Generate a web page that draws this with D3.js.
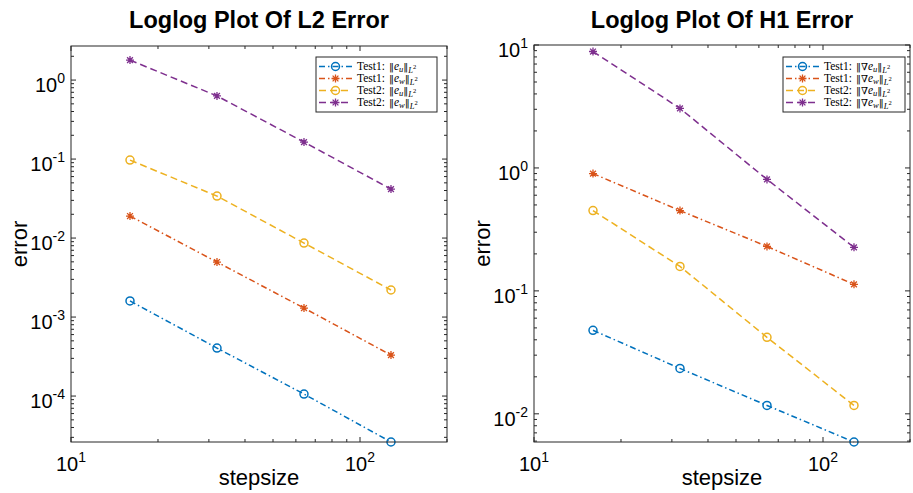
<!DOCTYPE html>
<html>
<head>
<meta charset="utf-8">
<script src="https://cdn.jsdelivr.net/npm/d3@7"></script>
<style>
  body { margin: 0; background: #fff; }
  svg { display: block; }
</style>
</head>
<body>
<svg id="chart" width="913" height="493"></svg>
<script>
// step sizes (x values)
const stepsize = [16, 32, 64, 128];

// L2 errors
const l2Test1U = [1.6e-3, 4.05e-4, 1.06e-4, 2.62e-5];
const l2Test1W = [0.019, 4.97e-3, 1.3e-3, 3.3e-4];
const l2Test2U = [0.097, 0.034, 8.65e-3, 2.2e-3];
const l2Test2W = [1.79, 0.63, 0.164, 0.0417];

// H1 errors
const h1Test1U = [0.0478, 0.0234, 0.0117, 0.0059];
const h1Test1W = [0.90, 0.45, 0.23, 0.113];
const h1Test2U = [0.45, 0.158, 0.0419, 0.0117];
const h1Test2W = [8.85, 3.05, 0.807, 0.226];

// axis limits and tick exponents
const xLim = [10, 200];
const l2YLim = [2.62e-5, 2.7];
const h1YLim = [0.0059, 10];
const xTickExp = [1, 2];
const l2YTickExp = [0, -1, -2, -3, -4];
const h1YTickExp = [1, 0, -1, -2];

// legend labels
const legendTests = ['Test1:', 'Test1:', 'Test2:', 'Test2:'];
const legendVars = ['u', 'w', 'u', 'w'];

const colors = ['#0072BD', '#D95319', '#EDB120', '#7E2F8E'];
const dashes = ['6,3,1.5,3', '6,3,1.5,3', '7,4', '7,4'];
const markers = ['circle', 'star', 'circle', 'star'];
const axisColor = '#262626';
const sans = '"Liberation Sans", Arial, Helvetica, sans-serif';
const serif = '"Liberation Serif", "Times New Roman", serif';

const svg = d3.select('#chart');

function drawMarker(g, type, cx, cy, color) {
  if (type === 'circle') {
    g.append('circle')
      .attr('cx', cx).attr('cy', cy).attr('r', 4)
      .attr('fill', 'none').attr('stroke', color).attr('stroke-width', 1.5);
  } else {
    const r = 4, d = 2.9;
    const p = `M${cx - r},${cy}H${cx + r}M${cx},${cy - r}V${cy + r}` +
      `M${cx - d},${cy - d}L${cx + d},${cy + d}M${cx - d},${cy + d}L${cx + d},${cy - d}`;
    g.append('path').attr('d', p).attr('fill', 'none')
      .attr('stroke', color).attr('stroke-width', 1.3);
  }
}

function powerLabel(sel, exp) {
  sel.append('tspan').text('10');
  sel.append('tspan').attr('font-size', 14).attr('dy', -9).text(exp);
}

// ||e_u||_{L^2} style label
function normText(sel, grad, v) {
  const bar = () => sel.append('tspan').attr('font-family', '"DejaVu Serif", serif').attr('font-size', 10);
  bar().text('\u2016');
  if (grad) sel.append('tspan').attr('font-family', '"DejaVu Serif", serif').attr('font-size', 10).text('\u2207');
  sel.append('tspan').attr('font-style', 'italic').text('e');
  sel.append('tspan').attr('font-style', 'italic').attr('font-size', 8.5).attr('dy', 2).text(v);
  bar().attr('dy', -2).text('\u2016');
  sel.append('tspan').attr('font-style', 'italic').attr('font-size', 8.5).attr('dy', 3).text('L');
  sel.append('tspan').attr('font-size', 6.5).attr('dy', -4).text('2');
}

function drawPanel(cfg) {
  const { left, right, top, bottom } = cfg;
  const x = d3.scaleLog().domain(xLim).range([left, right]);
  const y = d3.scaleLog().domain(cfg.yLim).range([bottom, top]);
  const g = svg.append('g');

  // title
  g.append('text')
    .attr('x', (left + right) / 2).attr('y', 28)
    .attr('text-anchor', 'middle')
    .attr('font-family', sans).attr('font-weight', 'bold').attr('font-size', 23.5)
    .attr('fill', '#000')
    .text(cfg.title);

  // series
  cfg.series.forEach((vals, i) => {
    const pts = stepsize.map((s, k) => [s, vals[k]]);
    g.append('path')
      .datum(pts)
      .attr('fill', 'none')
      .attr('stroke', colors[i])
      .attr('stroke-width', 1.5)
      .attr('stroke-dasharray', dashes[i])
      .attr('d', d3.line().x(d => x(d[0])).y(d => y(d[1])));
    pts.forEach(d => drawMarker(g, markers[i], x(d[0]), y(d[1]), colors[i]));
  });

  // ticks (inward, mirrored on all sides)
  const ticks = g.append('g').attr('stroke', axisColor).attr('stroke-width', 1);
  const xMinor = [];
  for (let e = 1; e <= 2; e++) for (let m = 1; m <= 9; m++) {
    const v = m * Math.pow(10, e);
    if (v >= xLim[0] && v <= xLim[1]) xMinor.push(v);
  }
  xMinor.forEach(v => {
    const len = (v === 10 || v === 100) ? 5 : 3;
    const px = x(v);
    ticks.append('line').attr('x1', px).attr('x2', px).attr('y1', bottom).attr('y2', bottom - len);
    ticks.append('line').attr('x1', px).attr('x2', px).attr('y1', top).attr('y2', top + len);
  });
  const yMinor = [];
  for (let e = -6; e <= 1; e++) for (let m = 1; m <= 9; m++) {
    const v = m * Math.pow(10, e);
    if (v >= cfg.yLim[0] && v <= cfg.yLim[1] * 1.0001) yMinor.push([v, m === 1]);
  }
  yMinor.forEach(([v, major]) => {
    const len = major ? 5 : 3;
    const py = y(v);
    ticks.append('line').attr('y1', py).attr('y2', py).attr('x1', left).attr('x2', left + len);
    ticks.append('line').attr('y1', py).attr('y2', py).attr('x1', right).attr('x2', right - len);
  });

  // box
  g.append('rect')
    .attr('x', left).attr('y', top)
    .attr('width', right - left).attr('height', bottom - top)
    .attr('fill', 'none').attr('stroke', axisColor).attr('stroke-width', 1);

  // tick labels
  xTickExp.forEach(e => {
    const t = g.append('text')
      .attr('x', x(Math.pow(10, e))).attr('y', 471)
      .attr('text-anchor', 'middle')
      .attr('font-family', sans).attr('font-size', 20).attr('fill', '#000');
    powerLabel(t, e);
  });
  cfg.yTickExp.forEach(e => {
    const t = g.append('text')
      .attr('x', left - 6).attr('y', y(Math.pow(10, e)) + 12)
      .attr('text-anchor', 'end')
      .attr('font-family', sans).attr('font-size', 20).attr('fill', '#000');
    powerLabel(t, e);
  });

  // axis labels
  g.append('text')
    .attr('x', (left + right) / 2).attr('y', 485)
    .attr('text-anchor', 'middle')
    .attr('font-family', sans).attr('font-size', 22).attr('fill', '#000')
    .text('stepsize');
  g.append('text')
    .attr('transform', `translate(${cfg.yLabelX},${(top + bottom) / 2}) rotate(-90)`)
    .attr('text-anchor', 'middle')
    .attr('font-family', sans).attr('font-size', 22).attr('fill', '#000')
    .text('error');

  // legend
  const lg = g.append('g');
  const lx = cfg.legendX, ly = 57, lw = cfg.legendW, rowH = 12;
  lg.append('rect')
    .attr('x', lx).attr('y', ly).attr('width', lw).attr('height', 55)
    .attr('fill', '#fff').attr('stroke', axisColor).attr('stroke-width', 1);
  legendTests.forEach((name, i) => {
    const ry = ly + 9.5 + i * rowH;
    lg.append('line')
      .attr('x1', lx + 3).attr('x2', lx + 36).attr('y1', ry).attr('y2', ry)
      .attr('stroke', colors[i]).attr('stroke-width', 1.5)
      .attr('stroke-dasharray', dashes[i]);
    drawMarker(lg, markers[i], lx + 19.5, ry, colors[i]);
    lg.append('text')
      .attr('x', lx + 41).attr('y', ry + 3.5)
      .attr('font-family', serif).attr('font-size', 11.5).attr('fill', '#000')
      .text(name);
    const nt = lg.append('text')
      .attr('x', lx + 73).attr('y', ry + 3.5)
      .attr('font-family', serif).attr('font-size', 11.5).attr('fill', '#000');
    normText(nt, cfg.grad, legendVars[i]);
  });
}

drawPanel({
  left: 71, right: 447, top: 46, bottom: 442,
  yLim: l2YLim, yTickExp: l2YTickExp,
  title: 'Loglog Plot Of L2 Error',
  series: [l2Test1U, l2Test1W, l2Test2U, l2Test2W],
  yLabelX: 27, legendX: 316, legendW: 121, grad: false
});

drawPanel({
  left: 534, right: 910, top: 45, bottom: 442,
  yLim: h1YLim, yTickExp: h1YTickExp,
  title: 'Loglog Plot Of H1 Error',
  series: [h1Test1U, h1Test1W, h1Test2U, h1Test2W],
  yLabelX: 490, legendX: 783, legendW: 122, grad: true
});
</script>
</body>
</html>
